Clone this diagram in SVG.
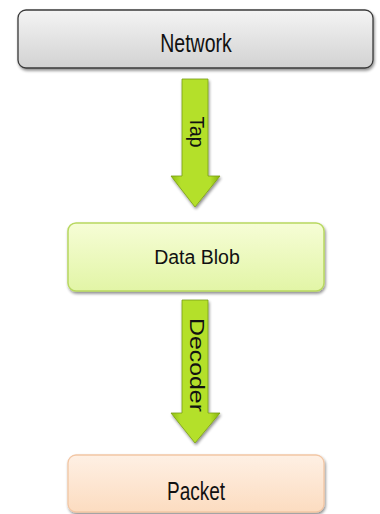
<svg xmlns="http://www.w3.org/2000/svg" width="380" height="514" viewBox="0 0 380 514">
  <defs>
    <linearGradient id="gGray" x1="0" y1="0" x2="0" y2="1">
      <stop offset="0" stop-color="#f4f4f4"/>
      <stop offset="1" stop-color="#d2d2d2"/>
    </linearGradient>
    <linearGradient id="gGreen" x1="0" y1="0" x2="0" y2="1">
      <stop offset="0" stop-color="#f6fdd6"/>
      <stop offset="1" stop-color="#e2f5a6"/>
    </linearGradient>
    <linearGradient id="gPeach" x1="0" y1="0" x2="0" y2="1">
      <stop offset="0" stop-color="#fef0e4"/>
      <stop offset="1" stop-color="#fcdcc0"/>
    </linearGradient>
    <linearGradient id="gArrow" x1="0" y1="0" x2="1" y2="0">
      <stop offset="0" stop-color="#8fbf10"/>
      <stop offset="0.2" stop-color="#b4e02c"/>
      <stop offset="0.8" stop-color="#b4e02c"/>
      <stop offset="1" stop-color="#86b20c"/>
    </linearGradient>
    <filter id="shadow" x="-10%" y="-20%" width="120%" height="150%">
      <feGaussianBlur in="SourceAlpha" stdDeviation="1.5"/>
      <feOffset dx="1" dy="2" result="b"/>
      <feComponentTransfer><feFuncA type="linear" slope="0.45"/></feComponentTransfer>
      <feMerge><feMergeNode/><feMergeNode in="SourceGraphic"/></feMerge>
    </filter>
    <style>
      .lbl { font-family: "Liberation Sans", Arial, sans-serif; fill: #111; }
      .arrow { fill: url(#gArrow); stroke: #7a9e12; stroke-width: 0.8; filter: url(#shadow); }
    </style>
  </defs>

  <g id="connectors">
    <g id="tap">
      <path class="arrow" d="M182,79 H208 V176 H220 L195,207 L171,176 H182 Z"/>
      <text class="lbl" font-size="20" text-anchor="middle" textLength="31" lengthAdjust="spacingAndGlyphs" transform="translate(190,132) rotate(90)">Tap</text>
    </g>
    <g id="decoder">
      <path class="arrow" d="M182,300 H208 V413 H220 L195,443 L171,413 H182 Z"/>
      <text class="lbl" font-size="21" text-anchor="middle" textLength="94" lengthAdjust="spacingAndGlyphs" transform="translate(190,365) rotate(90)">Decoder</text>
    </g>
  </g>

  <g id="network">
    <rect x="18" y="10" width="355" height="58" rx="8" fill="url(#gGray)" stroke="#3a3a3a" stroke-width="1.3" filter="url(#shadow)"/>
    <text class="lbl" font-size="19.5" text-anchor="middle" transform="translate(196,52) scale(1,1.35)">Network</text>
  </g>

  <g id="datablob">
    <rect x="68" y="223" width="256" height="68" rx="8" fill="url(#gGreen)" stroke="#b8d860" stroke-width="1.5" filter="url(#shadow)"/>
    <text class="lbl" x="197" y="264" font-size="19.5" text-anchor="middle">Data Blob</text>
  </g>

  <g id="packet">
    <rect x="68" y="455" width="256" height="57" rx="8" fill="url(#gPeach)" stroke="#f2c6a4" stroke-width="1.3" filter="url(#shadow)"/>
    <text class="lbl" font-size="19" text-anchor="middle" transform="translate(196,500) scale(1,1.35)">Packet</text>
  </g>
</svg>
